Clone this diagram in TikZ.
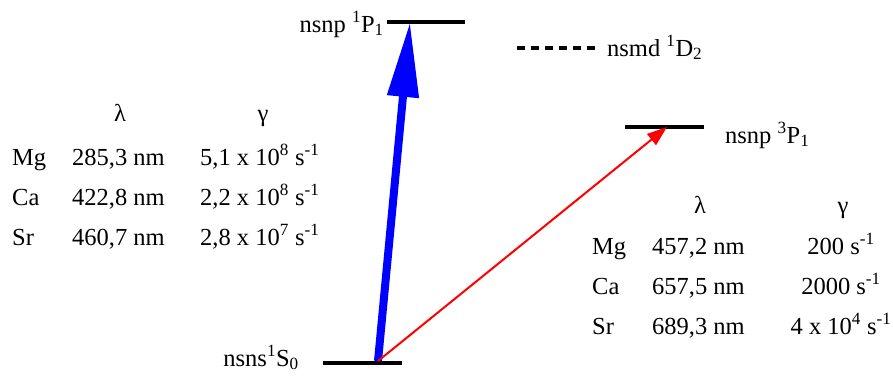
\documentclass[tikz,border=0pt]{standalone}
\usepackage{fontspec}
\setmainfont{Liberation Serif}
\usetikzlibrary{arrows.meta}
\tikzset{
  level/.style={line width=4pt},
  sublevel/.style={line width=4pt, dash pattern=on 8pt off 6pt},
  strong/.style={blue, line width=8pt, -{Triangle[length=75pt, width=30pt]}},
  weak/.style={red, line width=2pt, -{Triangle[length=20pt, width=14pt]}},
  lbl/.style={inner sep=0pt, font=\fontsize{24.5}{29}\selectfont},
}
\newcommand{\supx}[1]{\textsuperscript{#1}}
\newcommand{\subx}[1]{\textsubscript{#1}}

\begin{document}
\begin{tikzpicture}[x=1pt, y=-1pt]
  \useasboundingbox (0,0) rectangle (893,376);
  % levels
  \draw[level] (323,363) -- (402,363);
  \draw[level] (387,22) -- (465,22);
  \draw[sublevel] (517,48) -- (596,48);
  \draw[level] (625,127) -- (704,127);
  \coordinate (S0) at (378,361);
  \coordinate (P1) at (410,22);
  \coordinate (P3) at (667,127);
  \node[lbl, anchor=base east] (S0lbl) at (299,366) {nsns\supx{1}S\subx{0}};
  \node[lbl, anchor=base east] (P1lbl) at (384,32) {nsnp \supx{1}P\subx{1}};
  \node[lbl, anchor=base west] (D2lbl) at (607,56) {nsmd \supx{1}D\subx{2}};
  \node[lbl, anchor=base west] (P3lbl) at (725,143) {nsnp \supx{3}P\subx{1}};
  % transitions
  \draw[strong] (S0) -- (P1);
  \draw[weak] (S0) -- (P3);
  % singlet table
  \node[lbl, anchor=base] (lamL) at (120,121) {λ};
  \node[lbl, anchor=base] (gamL) at (263,121) {γ};
  \node[lbl, anchor=base west] (MgL) at (12,165) {Mg};
  \node[lbl, anchor=base west] (CaL) at (12,205) {Ca};
  \node[lbl, anchor=base west] (SrL) at (12,245) {Sr};
  \node[lbl, anchor=base west] (MgLlam) at (72,165) {285,3 nm};
  \node[lbl, anchor=base west] (CaLlam) at (72,205) {422,8 nm};
  \node[lbl, anchor=base west] (SrLlam) at (72,245) {460,7 nm};
  \node[lbl, anchor=base west] (MgLgam) at (200,165) {5,1 x 10\supx{8} s\supx{-1}};
  \node[lbl, anchor=base west] (CaLgam) at (200,205) {2,2 x 10\supx{8} s\supx{-1}};
  \node[lbl, anchor=base west] (SrLgam) at (200,245) {2,8 x 10\supx{7} s\supx{-1}};
  % triplet table
  \node[lbl, anchor=base] (lamR) at (700,213) {λ};
  \node[lbl, anchor=base] (gamR) at (843,213) {γ};
  \node[lbl, anchor=base west] (MgR) at (592,254) {Mg};
  \node[lbl, anchor=base west] (CaR) at (592,294) {Ca};
  \node[lbl, anchor=base west] (SrR) at (592,334) {Sr};
  \node[lbl, anchor=base west] (MgRlam) at (652,254) {457,2 nm};
  \node[lbl, anchor=base west] (CaRlam) at (652,294) {657,5 nm};
  \node[lbl, anchor=base west] (SrRlam) at (652,334) {689,3 nm};
  \node[lbl, anchor=base] (MgRgam) at (841,254) {200 s\supx{-1}};
  \node[lbl, anchor=base] (CaRgam) at (841,294) {2000 s\supx{-1}};
  \node[lbl, anchor=base] (SrRgam) at (841,334) {4 x 10\supx{4} s\supx{-1}};
\end{tikzpicture}
\end{document}
